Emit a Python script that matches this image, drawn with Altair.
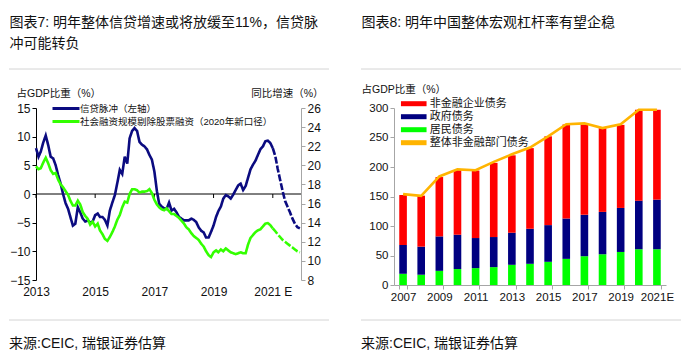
import altair as alt
import pandas as pd

CJK = "Liberation Sans, Noto Sans CJK SC"
NUM = "Liberation Sans"

# ---------------- left chart data ----------------
left_title = ["图表7: 明年整体信贷增速或将放缓至11%，信贷脉", "冲可能转负"]
right_title = ["图表8: 明年中国整体宏观杠杆率有望企稳"]
source_text = "来源:CEIC, 瑞银证券估算"

series_left = ["信贷脉冲（左轴）", "社会融资规模剔除股票融资（2020年新口径）"]
left_start = "2013-01-01"
forecast_index = 96  # 2021-01 onwards is forecast (dashed)

credit_impulse = [
    8.0, 6.5, 7.4, 9.0, 10.2, 8.5, 6.5, 6.2, 5.0, 3.3, 1.8, 0.0,
    -1.6, -2.6, -4.0, -5.5, -5.2, -2.3, -3.2, -4.3, -4.8, -4.6, -5.0, -4.8,
    -3.7, -3.4, -4.0, -4.0, -4.5, -5.5, -2.9, -1.5, -0.2, 1.9, 4.2, 3.5,
    6.5, 5.3, 9.7, 11.0, 11.5, 11.0, 9.1, 8.6, 8.3, 7.8, 6.8, 6.0,
    3.9, 0.5, -1.7, -2.2, -2.5, -2.6, -1.5, -2.9, -2.6, -3.2, -4.0, -4.3,
    -4.6, -4.6, -4.6, -4.3, -4.5, -4.9, -5.8, -6.4, -6.7, -7.6, -7.6, -6.6,
    -5.5, -4.0, -3.0, -2.2, -0.8, -0.2, -0.4, -0.8, -0.1, 0.7, 1.5, 1.8,
    0.7, 1.4, 2.8, 4.3, 5.1, 5.8, 6.8, 7.8, 8.3, 9.2, 9.3, 8.9,
    8.0, 6.6, 4.5, 2.5, 0.6, -1.2, -2.2, -3.2, -4.3, -5.2, -5.8, -6.0,
]
tsf_growth = [
    19.9, 19.6, 19.7, 20.3, 20.8, 20.2, 19.5, 19.1, 19.2, 18.5, 18.0, 17.7,
    17.3, 16.9, 16.3, 15.8, 15.8, 16.3, 15.9, 15.1, 14.7, 14.4, 13.8, 14.1,
    13.6, 13.9, 13.2, 12.8, 12.3, 12.1, 12.5, 13.0, 13.6, 14.3, 14.8, 15.6,
    16.2, 16.1, 17.0, 17.5, 17.5, 17.4, 17.15, 17.25, 17.25, 17.3, 17.5, 17.1,
    16.4, 15.9, 15.6, 15.4, 15.3, 15.5, 15.2, 14.9, 14.9, 14.7, 14.5, 14.2,
    13.9, 13.5, 13.3, 12.9, 12.6, 12.4, 12.2, 11.8, 11.5, 11.0, 10.6, 10.4,
    10.9, 11.1, 10.9, 11.2, 11.0, 11.3, 11.1, 10.9, 10.8, 10.7, 10.8, 10.9,
    10.8, 10.8, 11.7, 12.4, 12.7, 13.0, 13.2, 13.3, 13.6, 13.9, 13.95, 13.75,
    13.4, 13.1, 12.8, 12.5, 12.2, 12.0, 11.8, 11.6, 11.4, 11.2, 11.0, 10.9,
]
left_tick_years = [2013, 2015, 2017, 2019, 2021]

# ---------------- right chart data ----------------
years = [str(y) for y in range(2007, 2022)]
series_right = ["非金融企业债务", "政府债务", "居民债务", "整体非金融部门债务"]
household = [19, 17.4, 24, 27, 28.6, 30.3, 34.2, 35.9, 39.3, 44.3, 48.8, 52.1, 56, 60.6, 60.6]
government = [48.8, 47.6, 58.4, 58.2, 51, 51, 54.4, 59.4, 62.2, 68.4, 70.1, 71.8, 74.6, 82.4, 84.1]
corporate = [84.7, 86.4, 100.6, 109.4, 114.4, 125.7, 131.2, 136.7, 150.5, 159.3, 153.1, 141.9, 140.8, 154, 152.3]
total = [154, 151, 184, 196, 194.6, 208.6, 221.5, 233, 252, 272.5, 274, 266, 272.5, 297, 297]
right_label_years = [str(y) for y in range(2007, 2022, 2)]

# ---------------- tables ----------------
months = pd.date_range(left_start, periods=len(credit_impulse), freq="MS")
base = pd.DataFrame({"date": months, "ci": credit_impulse, "tsf": tsf_growth})
dfl = pd.concat([
    base.iloc[: forecast_index + 1].assign(part="actual"),
    base.iloc[forecast_index:].assign(part="forecast"),
])
ticks_df = pd.DataFrame({"date": [pd.Timestamp(f"{y}-01-01") for y in left_tick_years]})

bars = pd.concat([
    pd.DataFrame({"year": years, "value": household, "type": series_right[2], "ord": 0}),
    pd.DataFrame({"year": years, "value": government, "type": series_right[1], "ord": 1}),
    pd.DataFrame({"year": years, "value": corporate, "type": series_right[0], "ord": 2}),
])
total_df = pd.DataFrame({"year": years, "total": total, "type": series_right[3]})

one = pd.DataFrame({"k": [0]})

TOP = -99  # both panels share the same plot-origin row


# ---------------- helpers ----------------
def decor(x0, xr, titles, title_y, rule_top, rule_bot, src_y):
    # tiny white anchors fix the panel's bounding box
    layers = [
        alt.Chart(one).mark_rule(color="white", strokeWidth=1).encode(
            x=alt.value(x0), x2=alt.value(x0 + 1), y=alt.value(TOP)),
        alt.Chart(one).mark_rule(color="white", strokeWidth=1).encode(
            x=alt.value(xr - 1), x2=alt.value(xr), y=alt.value(TOP)),
    ]
    for i, t in enumerate(titles):
        layers.append(
            alt.Chart(pd.DataFrame({"t": [t]})).mark_text(
                align="left", baseline="middle", fontSize=14, font=CJK, color="#111111"
            ).encode(x=alt.value(x0 + 0.5), y=alt.value(title_y + 21.5 * i), text="t:N")
        )
    for ry in (rule_top, rule_bot):
        layers.append(
            alt.Chart(one).mark_rule(color="#d4d4d4", strokeWidth=1).encode(
                x=alt.value(x0), x2=alt.value(x0 + 320), y=alt.value(ry)
            )
        )
    layers.append(
        alt.Chart(pd.DataFrame({"t": [source_text]})).mark_text(
            align="left", baseline="middle", fontSize=14, font=CJK, color="#111111"
        ).encode(x=alt.value(x0), y=alt.value(src_y), text="t:N")
    )
    return layers


# ---------------- left chart ----------------
navy_l = "#0b0b80"
green_l = "#33ff00"
color_left = alt.Scale(domain=series_left, range=[navy_l, green_l])
legend_left = alt.Legend(
    orient="none", legendX=24.5, legendY=-5, title=None, direction="vertical",
    symbolType="M-3.375,0L3.375,0", symbolSize=64, symbolStrokeWidth=3,
    labelFontSize=9.5, labelFont=CJK, labelColor="#111111", labelOffset=8.5,
    labelLimit=400, rowPadding=0, padding=0,
)
xscale_left = alt.Scale(domain=[alt.DateTime(year=2013, month=1, date=1),
                               alt.DateTime(year=2021, month=12, date=15)])
xaxis_left = alt.Axis(
    values=[alt.DateTime(year=y, month=1, date=1) for y in left_tick_years],
    format="%Y", labelExpr="year(datum.value) == 2021 ? '2021 E' : datum.label",
    domain=False, ticks=False, grid=False, title=None, labelFontSize=12,
    labelFont=NUM, labelColor="#111111", labelPadding=6, labelFlush=False,
)
dash_scale = alt.Scale(domain=["actual", "forecast"], range=[[1, 0], [7, 2]])

yscale_left = alt.Scale(domain=[-15, 15], nice=False)
yaxis_left = alt.Axis(values=list(range(-15, 16, 5)), title="占GDP比重（%）",
                      titleAngle=0, titleX=-20, titleY=-15, titleAlign="left",
                      titleBaseline="middle", titleFontSize=10.5, titleFont=CJK,
                      titleFontWeight="normal", titleColor="#111111", labelOverlap=False,
                      grid=False, tickSize=4, domainColor="black", tickColor="black",
                      labelFontSize=12, labelFont=NUM, labelColor="#111111")

zero_rule = alt.Chart(pd.DataFrame({"zero": [0]})).mark_rule(color="black", strokeWidth=1).encode(
    y=alt.Y("zero:Q", scale=yscale_left, axis=yaxis_left)
)
zero_ticks = alt.Chart(ticks_df).mark_rule(color="black", strokeWidth=1).encode(
    x=alt.X("date:T", scale=xscale_left, axis=xaxis_left),
    y=alt.YDatum(0, scale=yscale_left, axis=yaxis_left), y2=alt.datum(-0.7),
)
blue = alt.Chart(dfl).transform_calculate(s=f"'{series_left[0]}'").mark_line(strokeWidth=2.6).encode(
    x=alt.X("date:T", scale=xscale_left, axis=xaxis_left),
    y=alt.Y("ci:Q", scale=yscale_left, axis=yaxis_left),
    color=alt.Color("s:N", scale=color_left, legend=legend_left),
    strokeDash=alt.StrokeDash("part:N", scale=dash_scale, legend=None),
)
left_group = alt.layer(zero_rule, zero_ticks, blue)

green = alt.Chart(dfl).transform_calculate(s=f"'{series_left[1]}'").mark_line(strokeWidth=2.6).encode(
    x=alt.X("date:T", scale=xscale_left, axis=xaxis_left),
    y=alt.Y("tsf:Q", scale=alt.Scale(domain=[8, 26], nice=False),
            axis=alt.Axis(orient="right", values=list(range(8, 27, 2)), title="同比增速（%）",
                          titleAngle=0, titleX=22, titleY=-15, titleAlign="right",
                          titleBaseline="middle", titleFontSize=10.5, titleFont=CJK,
                          titleFontWeight="normal", titleColor="#111111", labelOverlap=False,
                          grid=False, tickSize=4, domainColor="#a6a6a6", tickColor="#a6a6a6",
                          labelFontSize=12, labelFont=NUM, labelColor="#111111")),
    color=alt.Color("s:N", scale=color_left, legend=legend_left),
    strokeDash=alt.StrokeDash("part:N", scale=dash_scale, legend=None),
)

ldec = decor(-27, 310, left_title, -85.3, -39, 212, 236)
left_chart = alt.layer(left_group, green, *ldec).resolve_scale(
    y="independent").properties(width=265, height=172)

# ---------------- right chart ----------------
color_right = alt.Scale(domain=series_right, range=["#ff0000", "#000080", "#00ff00", "#ffb400"])
legend_right = alt.Legend(
    orient="none", legendX=13.25, legendY=-10.8, title=None, direction="vertical",
    symbolType="M-2.05,-0.4L2.05,-0.4L2.05,0.4L-2.05,0.4Z", symbolSize=156, symbolStrokeWidth=0,
    labelFontSize=11, labelFont=CJK, labelColor="#111111", labelOffset=9.5,
    labelLimit=400, rowPadding=1, padding=0,
)
xenc_right = alt.X(
    "year:O", scale=alt.Scale(domain=years, paddingInner=0.58, paddingOuter=0.29),
    axis=alt.Axis(values=right_label_years, labelExpr="datum.value == '2021' ? '2021E' : datum.label",
                  tickBand="extent", tickSize=4, tickColor="#a6a6a6", domainColor="#a6a6a6",
                  labelAngle=0, labelFontSize=11.5, labelFont=NUM, labelColor="#111111",
                  title=None, grid=False, labelPadding=2),
)
yscale_right = alt.Scale(domain=[0, 300], nice=False)
yaxis_right = alt.Axis(values=list(range(0, 301, 50)), title="占GDP比重（%）",
                       titleAngle=0, titleX=-33, titleY=-19, titleAlign="left",
                       titleBaseline="middle", titleFontSize=10.5, titleFont=CJK,
                       titleFontWeight="normal", titleColor="#111111", labelOverlap=False,
                       grid=False, tickSize=4, domainColor="#a6a6a6", tickColor="#a6a6a6",
                       labelFontSize=11.5, labelFont=NUM, labelColor="#111111")
bar_layer = alt.Chart(bars).mark_bar().encode(
    x=xenc_right,
    y=alt.Y("value:Q", stack="zero", scale=yscale_right, axis=yaxis_right),
    color=alt.Color("type:N", scale=color_right, legend=legend_right),
    order=alt.Order("ord:Q"),
)
line_layer = alt.Chart(total_df).mark_line(strokeWidth=2.6).encode(
    x=xenc_right,
    y=alt.Y("total:Q", scale=yscale_right, axis=yaxis_right),
    color=alt.Color("type:N", scale=color_right, legend=legend_right),
)
rdec = decor(-33, 296, right_title, -85.3, -39, 212, 236)
# extra anchor for the right panel's left edge (absolute x = 350)
anchor_left = alt.Chart(one).mark_rule(color="white", strokeWidth=1).encode(
    x=alt.value(-41), x2=alt.value(-40), y=alt.value(TOP))
right_chart = alt.layer(bar_layer, line_layer, anchor_left, *rdec).properties(width=272, height=177)

chart = alt.hconcat(left_chart, right_chart, spacing=5).resolve_scale(
    color="independent", strokeDash="independent"
).properties(
    padding={"left": 0, "top": 0, "right": 0, "bottom": 0}
).configure_view(stroke=None)

chart.save("out.html", embed_options={"renderer": "svg", "actions": False})
